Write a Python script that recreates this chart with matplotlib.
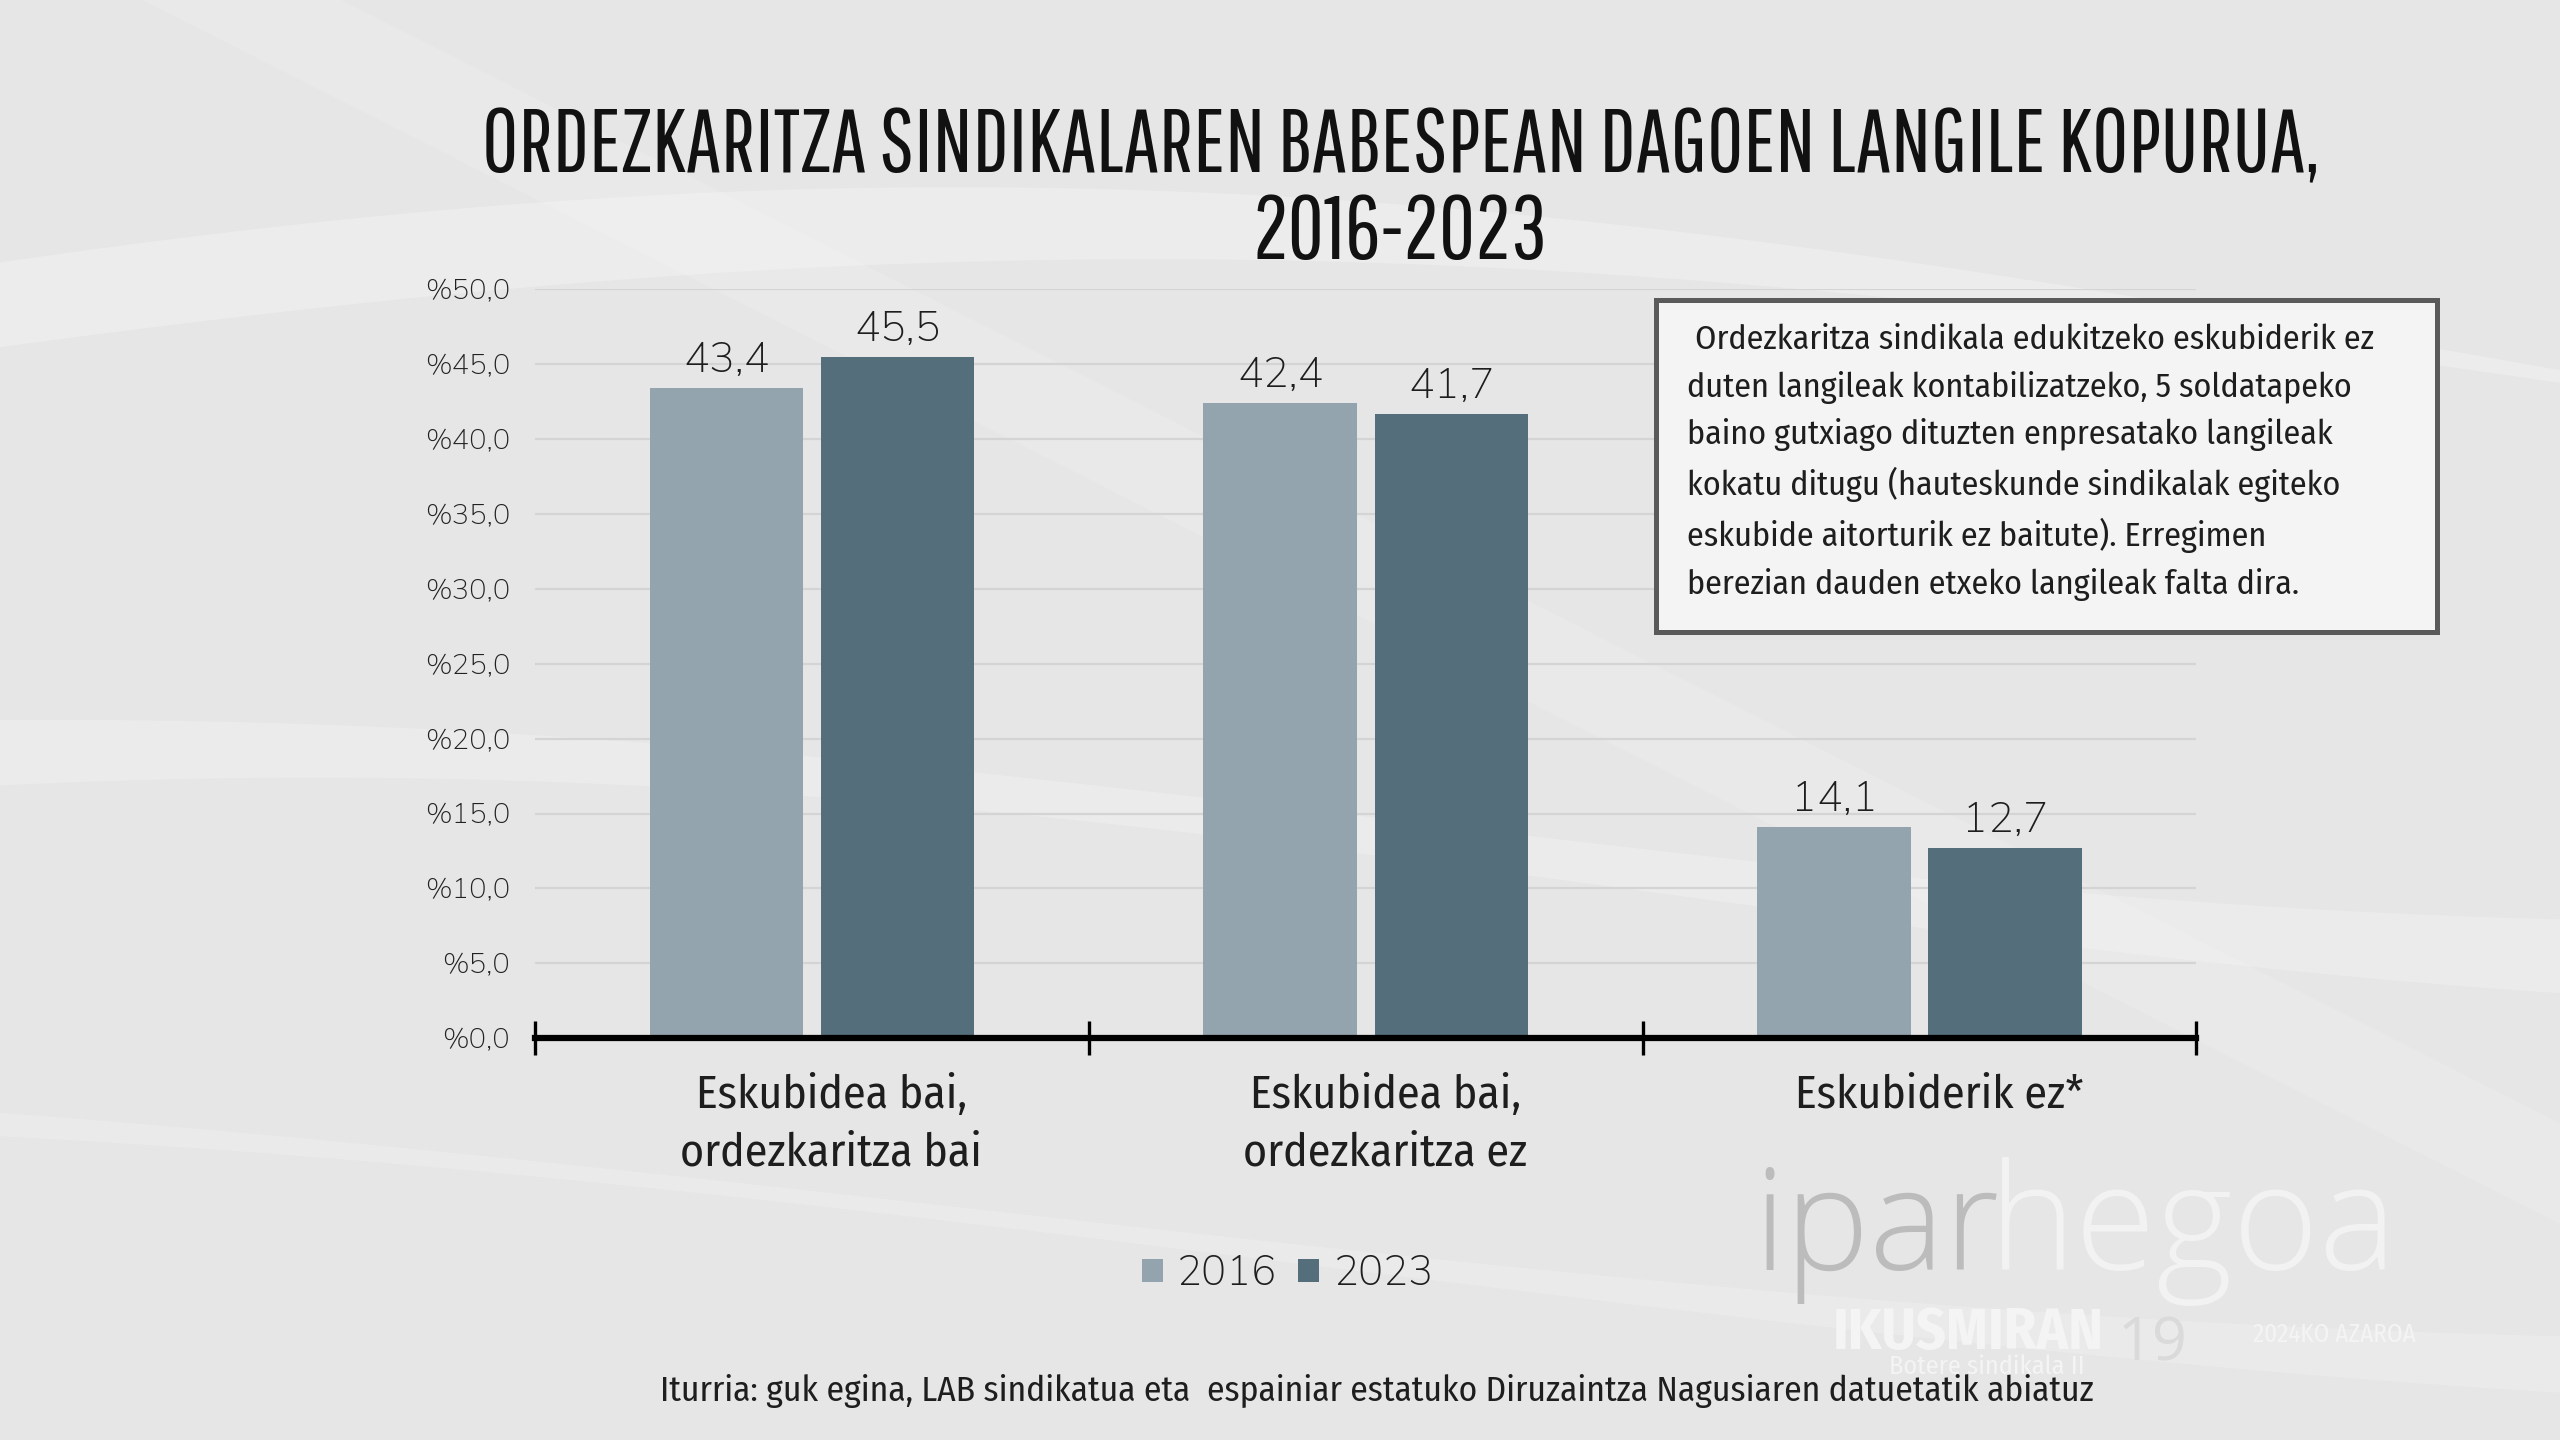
import numpy as np
import matplotlib
matplotlib.use("Agg")
import matplotlib.pyplot as plt
from matplotlib import font_manager as fm
from matplotlib.patches import Rectangle

# === DATI ===
categories = ["Eskubidea bai,\nordezkaritza bai", "Eskubidea bai,\nordezkaritza ez", "Eskubiderik ez*"]
years = ["2016", "2023"]
v2016 = [43.4, 42.4, 14.1]
v2023 = [45.5, 41.7, 12.7]
yticks = [0, 5, 10, 15, 20, 25, 30, 35, 40, 45, 50]

title = "ORDEZKARITZA SINDIKALAREN BABESPEAN DAGOEN LANGILE KOPURUA,\n2016-2023"
note = (" Ordezkaritza sindikala edukitzeko eskubiderik ez\n"
        "duten langileak kontabilizatzeko, 5 soldatapeko\n"
        "baino gutxiago dituzten enpresatako langileak\n"
        "kokatu ditugu (hauteskunde sindikalak egiteko\n"
        "eskubide aitorturik ez baitute). Erregimen\n"
        "berezian dauden etxeko langileak falta dira.")
source = "Iturria: guk egina, LAB sindikatua eta  espainiar estatuko Diruzaintza Nagusiaren datuetatik abiatuz"

# === COLORI ===
c2016 = "#93a4ae"
c2023 = "#546e7b"
bg = "#e6e6e6"
ink = "#1e1e1e"

# === FONT ===
available = {f.name for f in fm.fontManager.ttflist}


def pick(cands):
    for c in cands:
        if c in available:
            return c
    return "DejaVu Sans"


title_font = pick(["Pathway Gothic One", "Fira Sans Extra Condensed", "Liberation Sans Narrow"])
cond_font = pick(["Fira Sans Condensed", "Barlow Condensed", "Liberation Sans Narrow"])
num_font = pick(["Nunito Sans", "Mulish", "Lato"])
logo_font = pick(["Open Sans", "Noto Sans", "DejaVu Sans"])

# === FIGURA ===
fig = plt.figure(figsize=(25.6, 14.4), dpi=100)
fig.patch.set_facecolor(bg)

# sfondo con onde chiare
bgax = fig.add_axes([0, 0, 1, 1], zorder=-5)
bgax.set_xlim(0, 1)
bgax.set_ylim(0, 1)
bgax.axis("off")
xx = np.linspace(0, 1, 200)
bgax.fill_between(xx, 0.72 + 0.10 * np.sin(2.6 * xx + 0.4), 0.75 + 0.12 * np.sin(2.6 * xx + 0.6),
                  color="white", alpha=0.25, lw=0)
bgax.fill_between(xx, 0.38 + 0.08 * np.sin(3.0 * xx + 1.2), 0.43 + 0.07 * np.sin(3.0 * xx + 1.5),
                  color="white", alpha=0.22, lw=0)
bgax.fill_between(xx, 0.12 + 0.10 * np.sin(2.2 * xx + 2.0), 0.16 + 0.09 * np.sin(2.2 * xx + 2.3),
                  color="white", alpha=0.2, lw=0)
bgax.fill_between(xx, 1.05 - 0.9 * xx, 1.12 - 0.9 * xx, color="white", alpha=0.12, lw=0)

ax = fig.add_axes([0.209, 0.279, 0.649, 0.520])
ax.set_facecolor("none")

x = np.arange(len(categories))
w = 0.277
off = w / 2 + 0.016
b1 = ax.bar(x - off, v2016, w, color=c2016, zorder=3, label=years[0])
b2 = ax.bar(x + off, v2023, w, color=c2023, zorder=3, label=years[1])

for bars in (b1, b2):
    ax.bar_label(bars, labels=[f"{v:.1f}".replace(".", ",") for v in bars.datavalues],
                 padding=6, fontsize=31, family=num_font, color=ink)

ax.set_xlim(-0.5, 2.5)
ax.set_ylim(0, 50)
ax.set_yticks(yticks)
ax.set_yticklabels([f"%{v:.1f}".replace(".", ",") for v in yticks], family=num_font, fontsize=21,
                   color="#222222")
ax.tick_params(axis="y", length=0, pad=18)

# etichette leggermente spostate a destra come nell'originale
ax.set_xticks(x + 0.035)
ax.set_xticklabels(categories, family=cond_font, fontsize=33, color=ink, linespacing=1.4)
ax.set_xticks([-0.5, 0.5, 1.5, 2.5], minor=True)
ax.tick_params(axis="x", which="major", length=0, pad=25)
ax.tick_params(axis="x", which="minor", direction="inout", length=24, width=2.4, color="black")

ax.grid(axis="y", color="#d4d4d4", lw=1.6, zorder=0)
for s in ["top", "right", "left"]:
    ax.spines[s].set_visible(False)
ax.spines["bottom"].set_linewidth(4.5)
ax.spines["bottom"].set_color("black")
ax.spines["bottom"].set_zorder(4)

# titolo
fig.text(0.547, 0.868, title, ha="center", va="center", family=title_font, fontsize=64,
         color="#111111", linespacing=1.06)

# riquadro nota
fig.add_artist(Rectangle((0.647, 0.561), 0.305, 0.231, transform=fig.transFigure,
                         facecolor="#f4f4f4", edgecolor="#5a5a5a", lw=3.6, zorder=2))
fig.text(0.659, 0.775, note, ha="left", va="top", family=cond_font, fontsize=24.5,
         color=ink, linespacing=1.56, zorder=3)

# legenda
fig.legend(handles=[b1, b2], labels=years, loc="center", bbox_to_anchor=(0.503, 0.115), ncol=2,
           frameon=False, prop={"family": num_font, "size": 30}, handlelength=0.5, handleheight=0.5,
           handletextpad=0.35, columnspacing=0.5, labelcolor=ink)

# logo (filigrana)
fig.text(0.685, 0.118, "ipar", family=logo_font, fontsize=102, color="#bcbcbc", weight="light")
fig.text(0.777, 0.118, "hegoa", family=logo_font, fontsize=106, color="#f2f2f2", weight="light")
fig.text(0.716, 0.063, "IKUSMIRAN", family=pick(["Fira Sans Condensed", "DejaVu Sans"]), fontsize=42,
         color="#f4f4f4", weight="bold")
fig.text(0.827, 0.055, "19", family=logo_font, fontsize=44, color="#dadada")
fig.text(0.738, 0.046, "Botere sindikala II", family=cond_font, fontsize=19, color="#f4f4f4")
fig.text(0.880, 0.068, "2024KO AZAROA", family=cond_font, fontsize=18, color="#f4f4f4")

# fonte
fig.text(0.538, 0.034, source, ha="center", va="center", family=cond_font, fontsize=25.5,
         color=ink)

fig.savefig("out.png", dpi=100, facecolor=bg)
